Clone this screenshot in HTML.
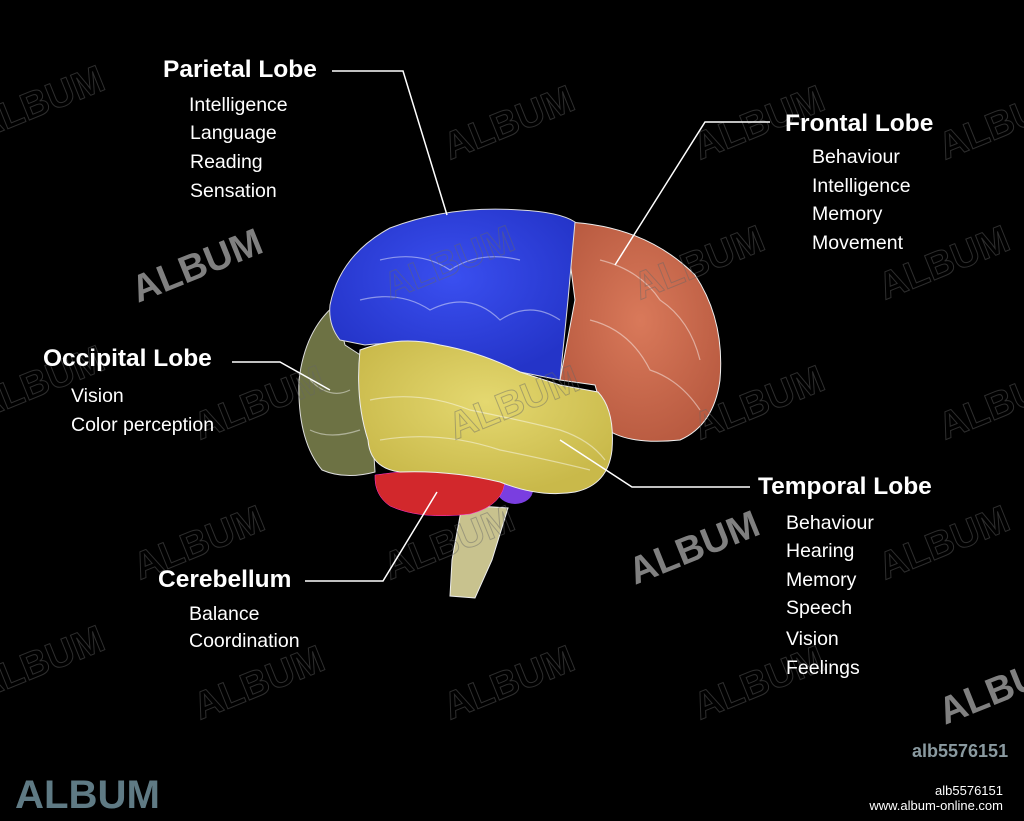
<!DOCTYPE html>
<html><head><meta charset="utf-8"><style>
html,body{margin:0;padding:0;background:#000;width:1024px;height:821px;overflow:hidden}
svg{display:block}
.t{font-family:"Liberation Sans",sans-serif;font-weight:bold;font-size:24.5px;fill:#fff}
.s{font-family:"Liberation Sans",sans-serif;font-size:19.5px;fill:#fff}
.w{font-family:"Liberation Sans",sans-serif;font-weight:bold;font-size:38px;fill:none;stroke:#666;stroke-width:1;opacity:.45}
</style></head><body>
<svg width="1024" height="821" viewBox="0 0 1024 821" xmlns="http://www.w3.org/2000/svg">
<rect width="1024" height="821" fill="#000"/>
<defs>
<radialGradient id="gb" cx="50%" cy="40%" r="60%"><stop offset="0" stop-color="#3a4ff0"/><stop offset="1" stop-color="#2434c8"/></radialGradient>
<radialGradient id="go" cx="50%" cy="45%" r="60%"><stop offset="0" stop-color="#d9795a"/><stop offset="1" stop-color="#b85a40"/></radialGradient>
<radialGradient id="gy" cx="50%" cy="40%" r="60%"><stop offset="0" stop-color="#e4d870"/><stop offset="1" stop-color="#c9b94a"/></radialGradient>
</defs>
<!-- stem -->
<polygon points="462,505 508,508 492,560 475,598 450,596 452,560" fill="#c8c28e" stroke="#eee" stroke-width="1"/>
<!-- purple -->
<ellipse cx="515" cy="490" rx="18" ry="14" fill="#7a3ee0"/>
<!-- cerebellum -->
<path d="M375,475 Q440,465 505,478 Q505,505 470,514 Q420,520 390,506 Q374,495 375,475Z" fill="#d2282c" stroke="#f3d" stroke-width=".5"/>
<!-- occipital -->
<path d="M335,305 Q305,330 299,380 Q297,440 322,470 Q345,480 375,472 L368,360 L345,345Z" fill="#6d7244" stroke="#ddd" stroke-width="1"/>
<!-- frontal -->
<path d="M565,222 Q645,225 695,275 Q725,320 720,380 Q714,425 680,440 Q630,445 608,430 L595,385 L560,380 L575,300Z" fill="url(#go)" stroke="#eee" stroke-width="1"/>
<!-- parietal -->
<path d="M330,305 Q340,255 390,228 Q450,205 520,210 Q560,212 575,222 L568,300 L560,380 L520,372 Q470,350 440,352 Q400,340 365,345 L340,340 Q328,325 330,305Z" fill="url(#gb)" stroke="#ddd" stroke-width="1"/>
<!-- temporal -->
<path d="M360,350 Q400,335 440,345 Q480,352 520,372 L560,385 L598,392 Q615,410 612,450 Q608,485 575,492 Q540,498 500,482 Q450,470 400,472 Q370,468 368,440 Q355,400 360,350Z" fill="url(#gy)" stroke="#eee" stroke-width="1"/>
<g stroke="#fff" stroke-opacity=".45" fill="none" stroke-width="1.2">
<path d="M380,260 Q420,250 450,270 Q480,250 520,260"/><path d="M360,300 Q400,290 430,310 Q470,290 500,320 Q530,300 560,320"/>
<path d="M600,260 Q640,270 660,300 Q690,320 700,360"/><path d="M590,320 Q630,330 650,370 Q680,380 700,410"/>
<path d="M370,400 Q420,390 470,410 Q520,420 560,430 Q590,440 605,460"/><path d="M380,440 Q440,430 500,450 Q550,460 590,470"/>
<path d="M310,380 Q330,400 350,390"/><path d="M310,430 Q330,440 360,430"/>
</g>
<!-- watermarks -->
<g>
<text transform="translate(450,160) rotate(-22)" class="w">ALBUM</text>
<text transform="translate(700,160) rotate(-22)" class="w">ALBUM</text>
<text transform="translate(885,300) rotate(-22)" class="w">ALBUM</text>
<text transform="translate(390,300) rotate(-22)" class="w">ALBUM</text>
<text transform="translate(640,300) rotate(-22)" class="w">ALBUM</text>
<text transform="translate(455,440) rotate(-22)" class="w">ALBUM</text>
<text transform="translate(700,440) rotate(-22)" class="w">ALBUM</text>
<text transform="translate(200,440) rotate(-22)" class="w">ALBUM</text>
<text transform="translate(140,580) rotate(-22)" class="w">ALBUM</text>
<text transform="translate(390,580) rotate(-22)" class="w">ALBUM</text>
<text transform="translate(885,580) rotate(-22)" class="w">ALBUM</text>
<text transform="translate(200,720) rotate(-22)" class="w">ALBUM</text>
<text transform="translate(450,720) rotate(-22)" class="w">ALBUM</text>
<text transform="translate(700,720) rotate(-22)" class="w">ALBUM</text>
<text transform="translate(-20,140) rotate(-22)" class="w">ALBUM</text>
<text transform="translate(-20,420) rotate(-22)" class="w">ALBUM</text>
<text transform="translate(-20,700) rotate(-22)" class="w">ALBUM</text>
<text transform="translate(945,440) rotate(-22)" class="w">ALBUM</text>
<text transform="translate(945,160) rotate(-22)" class="w">ALBUM</text>
</g>
<text x="635" y="585" transform="rotate(-22 635 585)" style="font-family:'Liberation Sans',sans-serif;font-weight:bold;font-size:38px;fill:#808080">ALBUM</text>
<text x="138" y="303" transform="rotate(-22 138 303)" style="font-family:'Liberation Sans',sans-serif;font-weight:bold;font-size:38px;fill:#808080">ALBUM</text>
<text x="945" y="725" transform="rotate(-22 945 725)" style="font-family:'Liberation Sans',sans-serif;font-weight:bold;font-size:38px;fill:#808080">ALBUM</text>
<!-- leader lines -->
<g stroke="#fff" stroke-width="1.5" fill="none">
<polyline points="332,71 403,71 447,215"/>
<polyline points="770,122 705,122 615,265"/>
<polyline points="232,362 280,362 330,390"/>
<polyline points="750,487 632,487 560,440"/>
<polyline points="305,581 383,581 437,492"/>
</g>
<!-- labels -->
<text class="t" x="163" y="77">Parietal Lobe</text>
<text class="s" x="189" y="111">Intelligence</text>
<text class="s" x="190" y="139">Language</text>
<text class="s" x="190" y="168">Reading</text>
<text class="s" x="190" y="197">Sensation</text>
<text class="t" x="785" y="131">Frontal Lobe</text>
<text class="s" x="812" y="163">Behaviour</text>
<text class="s" x="812" y="192">Intelligence</text>
<text class="s" x="812" y="220">Memory</text>
<text class="s" x="812" y="249">Movement</text>
<text class="t" x="43" y="366">Occipital Lobe</text>
<text class="s" x="71" y="402">Vision</text>
<text class="s" x="71" y="431">Color perception</text>
<text class="t" x="758" y="494">Temporal Lobe</text>
<text class="s" x="786" y="529">Behaviour</text>
<text class="s" x="786" y="557">Hearing</text>
<text class="s" x="786" y="586">Memory</text>
<text class="s" x="786" y="614">Speech</text>
<text class="s" x="786" y="645">Vision</text>
<text class="s" x="786" y="674">Feelings</text>
<text class="t" x="158" y="587">Cerebellum</text>
<text class="s" x="189" y="620">Balance</text>
<text class="s" x="189" y="647">Coordination</text>
<!-- footer -->
<text x="912" y="757" style="font-family:'Liberation Sans',sans-serif;font-weight:bold;font-size:18px;fill:#8a9aa0">alb5576151</text>
<text x="15" y="808" textLength="145" lengthAdjust="spacingAndGlyphs" style="font-family:'Liberation Sans',sans-serif;font-weight:bold;font-size:40px;fill:#5f7a84">ALBUM</text>
<text x="1003" y="795" text-anchor="end" style="font-family:'Liberation Sans',sans-serif;font-size:13px;fill:#fff">alb5576151</text>
<text x="1003" y="810" text-anchor="end" style="font-family:'Liberation Sans',sans-serif;font-size:13px;fill:#fff">www.album-online.com</text>
</svg>
</body></html>
